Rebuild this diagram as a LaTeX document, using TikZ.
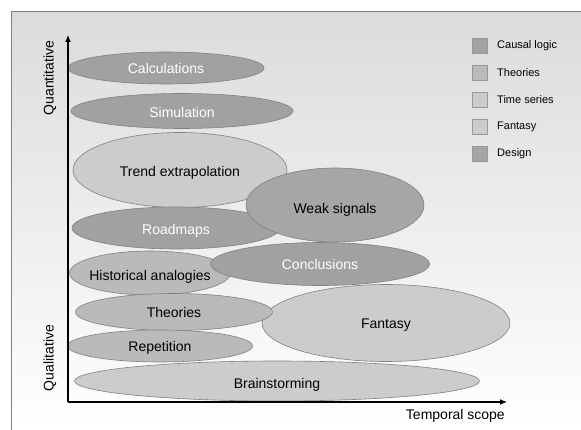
\documentclass[tikz,border=0pt]{standalone}
\usepackage{fontspec}
\setmainfont{Liberation Sans}
\usepackage{tikz}
\usetikzlibrary{arrows.meta,shapes.geometric}

\definecolor{causal}{gray}{0.63}
\definecolor{theory}{gray}{0.73}
\definecolor{timeser}{gray}{0.80}
\definecolor{fantasy}{gray}{0.80}
\definecolor{design}{gray}{0.65}
\definecolor{rim}{gray}{0.50}

% text that does not widen the ellipse, lowered a little
\newcommand{\mlabel}[2][2pt]{\makebox[0pt]{\raisebox{-#1}[\height][\depth]{#2}}}

\tikzset{
  method/.style={ellipse,draw=rim,line width=0.6pt,inner sep=0pt,
    font=\fontsize{14}{16}\selectfont},
  legbox/.style={draw=rim!80,line width=0.6pt,minimum size=15pt,inner sep=0pt},
  legtext/.style={anchor=west,inner sep=0pt,font=\fontsize{11}{13}\selectfont},
  axislabel/.style={inner sep=0pt,font=\fontsize{14}{16}\selectfont}
}

\begin{document}
\begin{tikzpicture}[>=Latex,x=1pt,y=-1pt]
    \useasboundingbox (0,0) rectangle (581,430);
    % panel
    \shade[top color=black!14,bottom color=white] (11,12) rectangle (581,430);
    \draw[rim,line width=1pt] (11,430) -- (11,12) -- (581,12);

    % methods
    \node[method,fill=causal,text=white,minimum width=196pt,minimum height=32pt] (calc) at (166,68) {\mlabel[0pt]{Calculations}};
    \node[method,fill=causal,text=white,minimum width=222pt,minimum height=35pt] (simu) at (182,111) {\mlabel[1pt]{Simulation}};
    \node[method,fill=timeser,minimum width=214pt,minimum height=75pt] (trend) at (180,170) {\mlabel[3pt]{Trend extrapolation}};
    \node[method,fill=causal,text=white,minimum width=208pt,minimum height=42pt] (road) at (176,228) {\mlabel[3pt]{Roadmaps}};
    \node[method,fill=design,minimum width=178pt,minimum height=74pt] (weak) at (335,205) {\mlabel[5pt]{Weak signals}};
    \node[method,fill=theory,minimum width=161pt,minimum height=44pt] (hist) at (150,273) {\mlabel[4pt]{Historical analogies}};
    \node[method,fill=causal,text=white,minimum width=219pt,minimum height=43pt] (concl) at (320,264) {\mlabel[0pt]{Conclusions}};
    \node[method,fill=fantasy,minimum width=248pt,minimum height=77pt] (fant) at (386,323) {\mlabel{Fantasy}};
    \node[method,fill=theory,minimum width=197pt,minimum height=37pt] (theo) at (174,312) {\mlabel[0pt]{Theories}};
    \node[method,fill=theory,minimum width=185pt,minimum height=32pt] (rep) at (160,346) {\mlabel{Repetition}};
    \node[method,fill=fantasy,minimum width=405pt,minimum height=40pt] (brain) at (277,381) {\mlabel[4pt]{Brainstorming}};

    % axes
    \coordinate (origin) at (68,402);
    \coordinate (ytop) at (68,35);
    \coordinate (xend) at (507,402);
    \draw[line width=1.2pt,-{Latex[length=7pt,width=6pt]}] (origin) -- (ytop);
    \draw[line width=1.2pt,-{Latex[length=7pt,width=6pt]}] (origin) -- (xend);
    \node[axislabel,rotate=90] (quant) at (50,78) {Quantitative};
    \node[axislabel,rotate=90] (qual) at (50,358) {Qualitative};
    \node[axislabel,anchor=east] (tscope) at (505,416) {Temporal scope};

    % legend
    \foreach \i/\col/\name in {0/causal/Causal logic,1/theory/Theories,2/timeser/Time series,3/fantasy/Fantasy,4/design/Design}{
      \node[legbox,fill=\col] (box\i) at (480,45.5+27*\i) {};
      \node[legtext] (leg\i) at (497,45.5+27*\i) {\name};
    }
\end{tikzpicture}
\end{document}
